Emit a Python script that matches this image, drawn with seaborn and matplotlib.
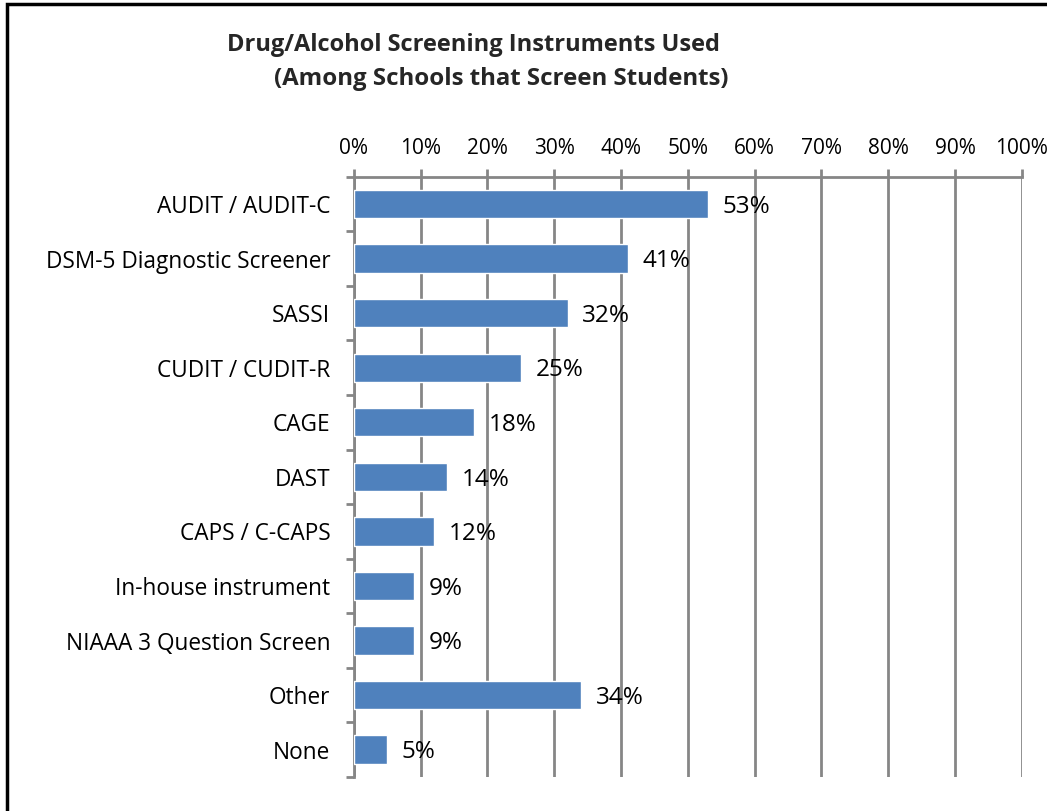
import matplotlib
matplotlib.use("Agg")
import matplotlib.pyplot as plt
import seaborn as sns
import pandas as pd
import numpy as np
from matplotlib.patches import Rectangle

categories = ["AUDIT / AUDIT-C", "DSM-5 Diagnostic Screener", "SASSI", "CUDIT / CUDIT-R",
              "CAGE", "DAST", "CAPS / C-CAPS", "In-house instrument",
              "NIAAA 3 Question Screen", "Other", "None"]
values = [53, 41, 32, 25, 18, 14, 12, 9, 9, 34, 5]
xticks = [0, 10, 20, 30, 40, 50, 60, 70, 80, 90, 100]
xtick_labels = [f"{t}%" for t in xticks]
title = "Drug/Alcohol Screening Instruments Used"
subtitle = "(Among Schools that Screen Students)"

sns.set_theme(style="white")
plt.rcParams['font.family'] = ['Open Sans', 'DejaVu Sans']

df = pd.DataFrame({"cat": categories, "val": values})

fig = plt.figure(figsize=(10.47, 8.11), dpi=100)
ax = fig.add_axes([0.338, 0.042, 0.638, 0.740])

sns.barplot(data=df, x="val", y="cat", orient="h", color="#4F81BD", width=0.52,
            saturation=1, ax=ax, zorder=3)

ax.set_xlim(0, 100)
ax.set_ylim(len(categories) - 0.5, -0.5)
ax.xaxis.tick_top()
ax.set_xticks(xticks)
ax.set_xticklabels(xtick_labels, fontsize=15, color="black")
ax.tick_params(axis="x", which="major", length=5.5, width=2, color="#868686", pad=7, top=True, bottom=False)
ax.set_xlabel("")
ax.set_ylabel("")

ax.set_yticks(np.arange(len(categories)))
ax.set_yticklabels(categories, fontsize=16.3, color="black")
ax.tick_params(axis="y", which="major", length=0, pad=17)
ax.set_yticks(np.arange(-0.5, len(categories), 1.0), minor=True)
ax.tick_params(axis="y", which="minor", length=5.5, width=2, color="#868686", left=True)

ax.grid(axis="x", color="#868686", linewidth=2, zorder=0)
ax.grid(axis="y", visible=False)
for side in ["right", "bottom"]:
    ax.spines[side].set_visible(False)
for side in ["top", "left"]:
    ax.spines[side].set_color("#868686")
    ax.spines[side].set_linewidth(2)

for i, v in enumerate(values):
    ax.text(v + 2.2, i + 0.05, f"{v}%", va="center", ha="left", fontsize=17.5, color="black", zorder=4)

fig.text(473 / 1047, 1 - 45 / 811, title, ha="center", va="center", fontsize=17, fontweight="bold")
fig.text(501 / 1047, 1 - 79 / 811, subtitle, ha="center", va="center", fontsize=17.3, fontweight="bold")

fig.patches.append(Rectangle((7 / 1047, -0.01), 1.1, 1 - 4 / 811 + 0.01, transform=fig.transFigure,
                             fill=False, edgecolor="black", linewidth=2.5))

fig.savefig("out.png", dpi=100)
